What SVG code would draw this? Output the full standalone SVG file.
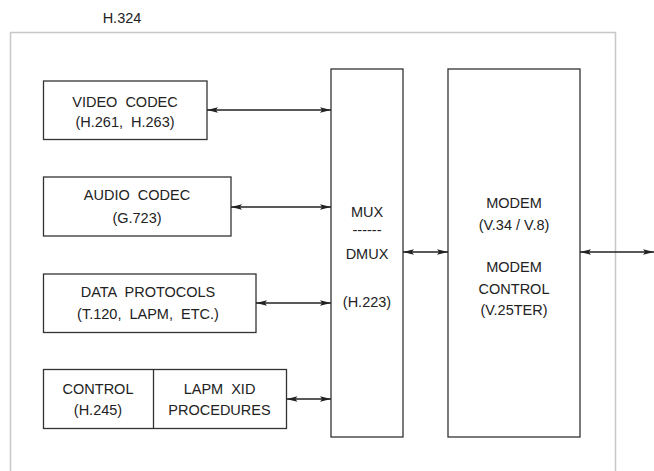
<svg xmlns="http://www.w3.org/2000/svg" width="654" height="471" viewBox="0 0 654 471">
<style>
text{font-family:"Liberation Sans",Arial,sans-serif;font-size:14.5px;fill:#222;text-anchor:middle;white-space:pre}
.box{fill:#fff;stroke:#333;stroke-width:1.3}
.conn line{stroke:#222;stroke-width:1.3;marker-start:url(#ah);marker-end:url(#ah)}
.frame{fill:none;stroke:#c8c8c8;stroke-width:1.5}
</style>
<defs>
<marker id="ah" markerUnits="userSpaceOnUse" markerWidth="11" markerHeight="6" refX="10" refY="2.5" orient="auto-start-reverse" viewBox="0 0 10 5">
<path d="M0,0 L10,2.5 L0,5 L2,2.5 z" fill="#222"/>
</marker>
</defs>
<rect width="654" height="471" fill="#fff"/>
<g id="frame">
<path class="frame" d="M10.5,471 V32.5 H615.5 V471"/>
<text x="122" y="22.5">H.324</text>
</g>
<g id="video">
<rect class="box" x="43.5" y="81" width="163.5" height="58.5"/>
<text x="125" y="106.5">VIDEO  CODEC</text>
<text x="125" y="127">(H.261,  H.263)</text>
</g>
<g id="audio">
<rect class="box" x="43.5" y="177" width="187.5" height="59"/>
<text x="137" y="200">AUDIO  CODEC</text>
<text x="137" y="222.5">(G.723)</text>
</g>
<g id="data">
<rect class="box" x="43.5" y="274" width="212.5" height="58.5"/>
<text x="148" y="297">DATA  PROTOCOLS</text>
<text x="148" y="319">(T.120,  LAPM,  ETC.)</text>
</g>
<g id="control">
<rect class="box" x="43.5" y="369.5" width="243" height="59"/>
<line x1="153.5" y1="369.5" x2="153.5" y2="428.5" stroke="#333" stroke-width="1.3"/>
<text x="98" y="393.5">CONTROL</text>
<text x="98" y="415">(H.245)</text>
<text x="219.5" y="393.5">LAPM  XID</text>
<text x="219.5" y="415">PROCEDURES</text>
</g>
<g id="mux">
<rect class="box" x="331" y="69" width="72" height="368"/>
<text x="367" y="216.5">MUX</text>
<text x="367" y="235">------</text>
<text x="367" y="259">DMUX</text>
<text x="367" y="306.5">(H.223)</text>
</g>
<g id="modem">
<rect class="box" x="448" y="69" width="132" height="368"/>
<text x="514" y="208">MODEM</text>
<text x="514" y="230">(V.34 / V.8)</text>
<text x="514" y="272">MODEM</text>
<text x="514" y="293.5">CONTROL</text>
<text x="514" y="315">(V.25TER)</text>
</g>
<g class="conn" id="connectors">
<line x1="207" y1="110" x2="331" y2="110"/>
<line x1="231" y1="207" x2="331" y2="207"/>
<line x1="256" y1="303" x2="331" y2="303"/>
<line x1="286.5" y1="399" x2="331" y2="399"/>
<line x1="403" y1="252" x2="448" y2="252"/>
<line x1="580" y1="252" x2="654" y2="252"/>
</g>
</svg>
